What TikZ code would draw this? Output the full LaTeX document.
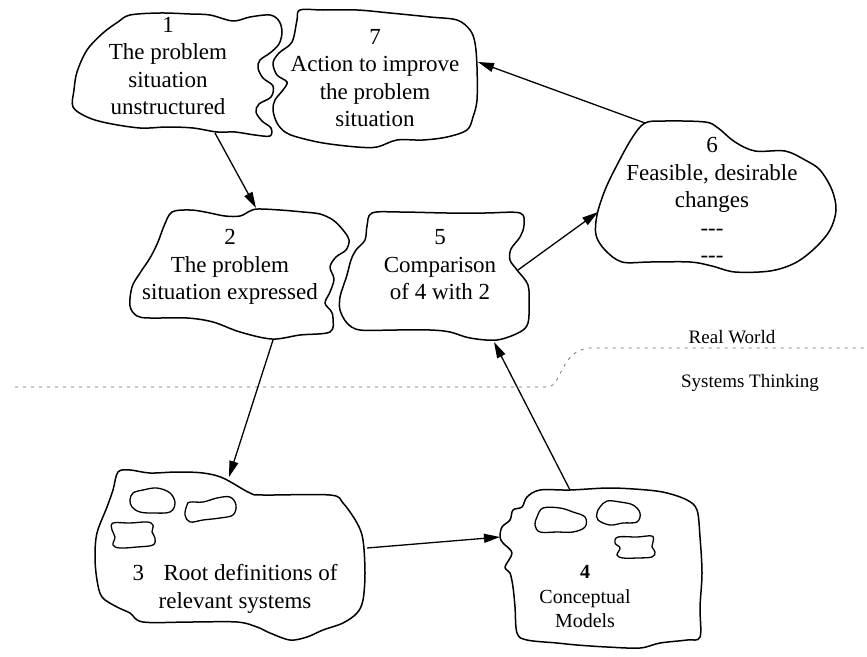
\documentclass[tikz,border=0pt]{standalone}
\usepackage{fontspec}
\setmainfont{Liberation Serif}
\usetikzlibrary{arrows.meta}
\begin{document}
\begin{tikzpicture}[x=1pt,y=-1pt,
  blob/.style={draw=black, line width=1.5pt, line join=round},
  minor/.style={draw=black, line width=1.3pt, line join=round},
  txt/.style={align=center, font=\fontsize{23}{27.5}\selectfont, inner sep=0pt},
  flow/.style={draw=black, line width=1.3pt, -{Triangle[length=16pt,width=9pt]}},
  divide/.style={draw=black!60, line width=0.7pt, dash pattern=on 3pt off 5pt},
  zonetext/.style={font=\fontsize{19}{22}\selectfont, inner sep=0pt}]
\useasboundingbox (0,0) rectangle (867,656);

% --- stage outlines ---
% 1: problem situation unstructured
\draw[blob] plot[smooth cycle, tension=0.55] coordinates {
  (130,15) (160,13) (190,14) (210,15) (233,21) (250,17) (270,15) (279,21)
  (282,32) (279,44) (270,53) (260,60) (258,68) (263,78) (273,86) (271,97)
  (259,104) (256,112) (262,121) (271,128) (270,136) (255,135) (235,132)
  (217,132) (193,128) (167,127) (140,128) (107,123) (87,117) (73,107)
  (74,90) (77,72) (87,50) (103,33) (118,22)};
% 7: action
\draw[blob] plot[smooth cycle, tension=0.55] coordinates {
  (300,10) (297,20) (292,42) (279,53) (273,63) (277,75) (287,82) (283,90)
  (275,100) (273,110) (277,123) (285,132) (297,137) (323,143) (357,147)
  (377,147) (397,140) (423,140) (447,137) (467,130) (473,117) (477,100)
  (477,67) (475,43) (470,30) (457,20) (430,17) (390,13) (357,10) (323,10)};
% 2: problem situation expressed
\draw[blob] plot[smooth cycle, tension=0.55] coordinates {
  (172,212) (190,210) (205,212) (225,216) (240,216) (250,211) (258,209)
  (280,210) (303,212) (320,214) (333,220) (343,230) (349,240) (346,250)
  (336,257) (330,267) (334,279) (330,292) (325,303) (331,311) (333,318)
  (330,332) (300,335) (272,339) (240,332) (213,322) (187,318) (150,318)
  (137,316) (130,306) (132,287) (140,273) (150,258) (158,242) (164,226)};
% 5: comparison
\draw[blob] plot[smooth cycle, tension=0.55] coordinates {
  (372,213) (400,212) (447,213) (485,213) (520,213) (524,225) (520,237)
  (511,249) (510,260) (517,270) (528,285) (529,305) (528,323) (520,332)
  (497,340) (470,338) (450,332) (430,330) (395,330) (360,330) (347,323)
  (340,310) (340,297) (343,287) (347,275) (351,260) (356,250) (365,240)
  (367,226)};
% 6: feasible, desirable changes
\draw[blob] plot[smooth cycle, tension=0.55] coordinates {
  (645,123) (665,121) (705,122) (718,128) (735,142) (755,151) (785,151)
  (805,160) (820,170) (832,190) (836,210) (830,230) (815,248) (795,263)
  (770,271) (735,272) (712,266) (690,262) (650,262) (622,262) (605,250)
  (596,235) (597,215) (605,190) (617,165) (632,138)};
% 3: root definitions
\draw[blob] plot[smooth cycle, tension=0.55] coordinates {
  (118,472) (130,470) (150,473) (177,472) (203,473) (223,478) (250,493)
  (263,495) (330,495) (343,503) (357,523) (363,540) (365,573) (363,600)
  (357,613) (343,623) (323,630) (307,637) (290,640) (270,633) (257,627)
  (237,622) (190,622) (143,622) (130,613) (117,607) (102,597) (97,580)
  (95,557) (97,533) (107,507) (113,490)};
\draw[minor] plot[smooth cycle, tension=0.6] coordinates {
  (130,500) (133,493) (143,490) (157,488) (170,493) (175,503) (170,512)
  (153,513) (140,512) (132,507)};
\draw[minor] plot[smooth cycle, tension=0.6] coordinates {
  (187,505) (190,502) (203,502) (217,498) (230,497) (236,505) (233,515)
  (220,518) (203,520) (190,522) (185,515)};
\draw[minor] plot[smooth cycle, tension=0.6] coordinates {
  (113,523) (130,523) (147,522) (153,525) (152,532) (155,538) (153,545)
  (137,547) (120,548) (113,545) (115,537) (112,530)};
% 4: conceptual models
\draw[blob] plot[smooth cycle, tension=0.55] coordinates {
  (527,497) (540,490) (570,490) (610,488) (647,490) (667,493) (687,500)
  (697,510) (700,537) (702,573) (700,607) (700,637) (687,640) (660,643)
  (640,648) (607,647) (577,645) (557,643) (527,640) (517,633) (515,607)
  (513,587) (510,573) (505,567) (512,553) (503,543) (500,537) (502,527)
  (510,520) (513,510) (522,507)};
\draw[minor] plot[smooth cycle, tension=0.6] coordinates {
  (537,517) (543,508) (560,508) (573,512) (585,517) (585,527) (573,532)
  (557,532) (540,532) (535,525)};
\draw[minor] plot[smooth cycle, tension=0.6] coordinates {
  (600,507) (607,501) (620,502) (633,505) (640,513) (637,522) (623,523)
  (610,525) (598,520) (597,513)};
\draw[minor] plot[smooth cycle, tension=0.6] coordinates {
  (618,537) (637,537) (652,536) (653,542) (652,547) (655,552) (652,557)
  (637,558) (623,558) (617,555) (620,548) (615,543)};

% --- stage texts ---
\node[txt] (t1) at (168,66) {1\\The problem\\situation\\unstructured};
\node[txt] (t7) at (375,78) {7\\Action to improve\\the problem\\situation};
\node[txt] (t2) at (230,267) {2\\The problem\\situation expressed};
\node[txt] (t5) at (440,265) {5\\Comparison\\of 4 with 2};
\node[txt] (t6) at (712,200) {6\\Feasible, desirable\\changes\\-{}-{}-\\-{}-{}-};
\node[txt] (t3) at (235,589) {3\hspace{0.6em} Root definitions of\\relevant systems};
\node[txt, font=\fontsize{20}{24.5}\selectfont] (t4) at (585,597)
  {\textbf{4}\\Conceptual\\Models};

% --- real world / systems thinking boundary ---
\coordinate (dl) at (15,387);
\coordinate (dm) at (548,387);
\coordinate (dn) at (590,348);
\coordinate (dr) at (867,348);
\draw[divide] (dl) -- (dm) .. controls (562,386) and (560,350) .. (dn) -- (dr);
\node[zonetext] (rw) at (732,337) {Real World};
\node[zonetext] (st) at (750,383) {Systems Thinking};

% --- connector end points on the outlines ---
\coordinate (a12s) at (215,133);
\coordinate (a12e) at (256,208);
\coordinate (a23s) at (273,340);
\coordinate (a23e) at (229,477);
\coordinate (a34s) at (367,548);
\coordinate (a34e) at (500,537);
\coordinate (a45s) at (570,490);
\coordinate (a45e) at (494,342);
\coordinate (a56s) at (518,270);
\coordinate (a56e) at (598,212);
\coordinate (a67s) at (645,123);
\coordinate (a67e) at (478,62);

\draw[flow] (a12s) -- (a12e);
\draw[flow] (a23s) -- (a23e);
\draw[flow] (a34s) -- (a34e);
\draw[flow] (a45s) -- (a45e);
\draw[flow] (a56s) -- (a56e);
\draw[flow] (a67s) -- (a67e);
\end{tikzpicture}
\end{document}
